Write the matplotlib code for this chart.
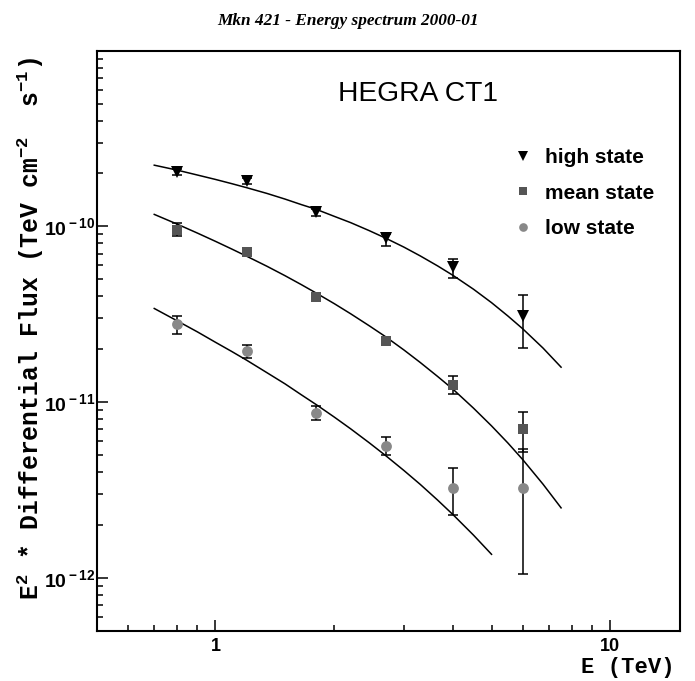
import math
import matplotlib
matplotlib.use("Agg")
import matplotlib.pyplot as plt
from matplotlib.ticker import FixedLocator, LogLocator, NullFormatter, FuncFormatter

plt.rcParams['mathtext.fontset'] = 'custom'
plt.rcParams['mathtext.rm'] = 'Liberation Mono:bold'
plt.rcParams['mathtext.it'] = 'Liberation Mono:bold'
plt.rcParams['mathtext.tt'] = 'Liberation Mono:bold'
plt.rcParams['mathtext.bf'] = 'Liberation Sans:bold'

# measured points (E in TeV, E^2 dN/dE in TeV cm^-2 s^-1)
energy = [0.8, 1.2, 1.8, 2.7, 4.0, 6.0]

high_flux = [2.03e-10, 1.81e-10, 1.20e-10, 8.58e-11, 5.9e-11, 3.07e-11]
high_lo = [1.95e-10, 1.74e-10, 1.15e-10, 7.69e-11, 5.07e-11, 2.02e-11]
high_hi = [2.11e-10, 1.88e-10, 1.25e-10, 9.0e-11, 6.51e-11, 4.06e-11]

mean_flux = [9.57e-11, 7.17e-11, 3.98e-11, 2.24e-11, 1.257e-11, 7.01e-12]
mean_lo = [8.79e-11, 6.9e-11, 3.85e-11, 2.15e-11, 1.117e-11, 5.23e-12]
mean_hi = [1.04e-10, 7.45e-11, 4.1e-11, 2.33e-11, 1.40e-11, 8.77e-12]

low_flux = [2.77e-11, 1.95e-11, 8.65e-12, 5.64e-12, 3.26e-12, 3.23e-12]
low_lo = [2.45e-11, 1.79e-11, 7.93e-12, 5.0e-12, 2.29e-12, 1.045e-12]
low_hi = [3.10e-11, 2.11e-11, 9.45e-12, 6.31e-12, 4.23e-12, 5.39e-12]

# fitted curves
curve_e = [0.7, 0.8, 0.9, 1.0, 1.1, 1.2, 1.35, 1.5, 1.65, 1.8, 2.0, 2.2, 2.45, 2.7,
           3.0, 3.3, 3.65, 4.0, 4.5, 5.0, 5.5, 6.0, 6.75, 7.5]
high_curve = [2.23e-10, 2.09e-10, 1.96e-10, 1.85e-10, 1.75e-10, 1.66e-10, 1.54e-10,
              1.43e-10, 1.33e-10, 1.25e-10, 1.14e-10, 1.05e-10, 9.46e-11, 8.56e-11,
              7.62e-11, 6.79e-11, 5.96e-11, 5.25e-11, 4.39e-11, 3.68e-11, 3.09e-11,
              2.61e-11, 2.03e-11, 1.58e-11]
mean_curve = [1.17e-10, 1.03e-10, 9.16e-11, 8.22e-11, 7.43e-11, 6.76e-11, 5.93e-11,
              5.24e-11, 4.66e-11, 4.17e-11, 3.63e-11, 3.18e-11, 2.72e-11, 2.35e-11,
              1.98e-11, 1.68e-11, 1.40e-11, 1.18e-11, 9.24e-12, 7.32e-12, 5.85e-12,
              4.70e-12, 3.41e-12, 2.50e-12]
low_curve_e = [0.7, 0.8, 0.9, 1.0, 1.1, 1.2, 1.35, 1.5, 1.65, 1.8, 2.0, 2.2, 2.45, 2.7,
               3.0, 3.3, 3.65, 4.0, 4.5, 5.0]
low_curve = [3.41e-11, 2.90e-11, 2.51e-11, 2.19e-11, 1.94e-11, 1.73e-11, 1.47e-11,
             1.27e-11, 1.10e-11, 9.67e-12, 8.21e-12, 7.04e-12, 5.87e-12, 4.95e-12,
             4.08e-12, 3.40e-12, 2.77e-12, 2.28e-12, 1.75e-12, 1.36e-12]

fig = plt.figure(figsize=(6.95, 6.81), dpi=100)
ax = fig.add_axes([0.1389, 0.0739, 0.8395, 0.8517])

ax.plot(curve_e, high_curve, color='black', lw=1.1)
ax.plot(curve_e, mean_curve, color='black', lw=1.1)
ax.plot(low_curve_e, low_curve, color='black', lw=1.1)

series = [
    (high_flux, high_lo, high_hi, 'v', 'black', 8.6, 'high state'),
    (mean_flux, mean_lo, mean_hi, 's', '#555555', 7.6, 'mean state'),
    (low_flux, low_lo, low_hi, 'o', '#888888', 7.8, 'low state'),
]
for flux, lo, hi, mk, col, ms, lab in series:
    yerr = [[f - l for f, l in zip(flux, lo)], [h - f for f, h in zip(flux, hi)]]
    ax.errorbar(energy, flux, yerr=yerr, fmt='none', ecolor='black',
                elinewidth=1.1, capsize=3.8, capthick=1.1, zorder=3)
    ax.plot(energy, flux, linestyle='none', marker=mk, color=col, ms=ms,
            markeredgewidth=0, label=lab, zorder=4)

ax.set_xscale('log')
ax.set_yscale('log')
ax.set_xlim(0.5, 15)
ax.set_ylim(5e-13, 1e-9)

ax.xaxis.set_major_locator(FixedLocator([1, 10]))
ax.xaxis.set_major_formatter(FuncFormatter(lambda v, p: '%d' % round(v)))
ax.xaxis.set_minor_locator(LogLocator(base=10, subs=range(2, 10)))
ax.xaxis.set_minor_formatter(NullFormatter())
ax.yaxis.set_major_locator(FixedLocator([1e-12, 1e-11, 1e-10]))
ax.yaxis.set_major_formatter(FuncFormatter(
    lambda v, p: r'$\mathbf{10^{\,%d}}$' % round(math.log10(v))))
ax.yaxis.set_minor_locator(LogLocator(base=10, subs=range(2, 10)))
ax.yaxis.set_minor_formatter(NullFormatter())

ax.tick_params(which='both', direction='in', top=False, right=False, width=1.1)
ax.tick_params(which='major', length=8)
ax.tick_params(which='minor', length=4.3)
ax.tick_params(axis='x', which='major', pad=5)
ax.tick_params(axis='y', which='major', pad=1)
for t in ax.get_xticklabels():
    t.set_fontfamily('Liberation Sans')
    t.set_fontweight('bold')
    t.set_fontsize(13)
for t in ax.get_yticklabels():
    t.set_fontsize(14)
for s in ax.spines.values():
    s.set_linewidth(1.5)

leg = ax.legend(loc='upper left', bbox_to_anchor=(513 / 695, 1 - 148 / 681),
                bbox_transform=fig.transFigure, frameon=False, borderpad=0,
                borderaxespad=0, handlelength=1.0, handletextpad=0.55, labelspacing=0.8,
                markerscale=0.8, prop={'family': 'Liberation Sans', 'weight': 'bold', 'size': 15})

fig.text(0.5, 1 - 21 / 681, 'Mkn 421 - Energy spectrum 2000-01', ha='center', va='center',
         family='Liberation Serif', weight='bold', style='italic', size=12.4)
fig.text(418 / 695, 1 - 94 / 681, 'HEGRA CT1', ha='center', va='center',
         family='Liberation Sans', size=20.3)
fig.text(31 / 695, 1 - 329 / 681, r'E$^{2}$ * Differential Flux (TeV cm$^{-2}$  s$^{-1}$)',
         rotation=90, ha='center', va='center', family='Liberation Mono', weight='bold', size=17.8)
fig.text(675 / 695, 1 - 667 / 681, 'E (TeV)', ha='right', va='center',
         family='Liberation Mono', weight='bold', size=16)

fig.savefig('out.png', dpi=100)
